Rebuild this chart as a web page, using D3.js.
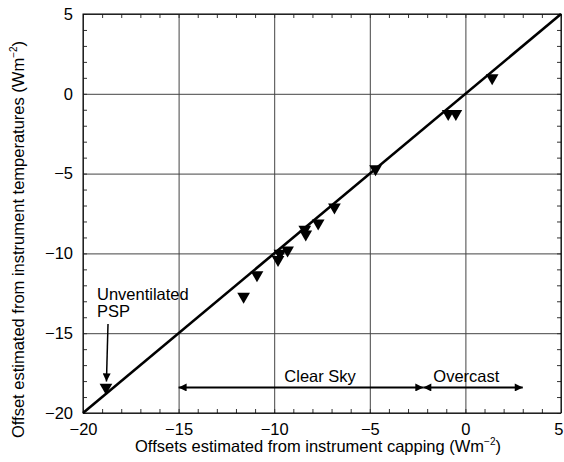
<!DOCTYPE html>
<html>
<head>
<meta charset="utf-8">
<script src="https://cdn.jsdelivr.net/npm/d3@7"></script>
<style>
  html, body { margin: 0; padding: 0; background: #fff; }
  svg { display: block; font-family: "Liberation Sans", Arial, Helvetica, sans-serif; }
</style>
</head>
<body>
<svg id="chart" width="564" height="462"></svg>
<script>
// Offsets from instrument capping (x) vs. from instrument temperatures (y), W m^-2
const capping = [1.4, -0.9, -0.5, -4.7, -6.85, -7.7, -8.4, -8.35, -9.3, -9.7, -9.8, -10.9, -11.6, -18.8];
const temps   = [1.0, -1.25, -1.25, -4.7, -7.1, -8.1, -8.5, -8.8, -9.8, -10.0, -10.4, -11.35, -12.7, -18.4];

const majorTicks = [-20, -15, -10, -5, 0, 5];
const tickLabels = ["\u221220", "\u221215", "\u221210", "\u22125", "0", "5"];
const minorTicks = d3.range(-20, 6, 1);

// one-to-one reference line
const oneToOne = [[-20, -20], [5, 5]];

// sky-condition ranges along the capping axis
const clearSky = [-15, -2.2];
const overcast = [-2.2, 3];
const rangeY = -18.4;

const FS = 16.5;
const svg = d3.select("#chart");
const mLeft = 83, mRight = 561, mTop = 14, mBottom = 413;
const x = d3.scaleLinear().domain([-20, 5]).range([mLeft, mRight]);
const y = d3.scaleLinear().domain([-20, 5]).range([mBottom, mTop]);
const W = mRight - mLeft, H = mBottom - mTop;

const fmt = d => tickLabels[majorTicks.indexOf(d)];

// gridlines
svg.append("g").attr("transform", `translate(0,${mBottom})`)
  .call(d3.axisBottom(x).tickValues(majorTicks).tickSize(-H).tickFormat(""))
  .call(g => g.select(".domain").remove())
  .call(g => g.selectAll("line").attr("stroke", "#444").attr("stroke-width", 1));
svg.append("g").attr("transform", `translate(${mLeft},0)`)
  .call(d3.axisLeft(y).tickValues(majorTicks).tickSize(-W).tickFormat(""))
  .call(g => g.select(".domain").remove())
  .call(g => g.selectAll("line").attr("stroke", "#444").attr("stroke-width", 1));

// minor inward ticks on all four sides
const minorStyle = g => {
  g.select(".domain").remove();
  g.selectAll("line").attr("stroke", "#333").attr("stroke-width", 1);
};
svg.append("g").attr("transform", `translate(0,${mBottom})`)
  .call(d3.axisBottom(x).tickValues(minorTicks).tickSize(-4).tickFormat("")).call(minorStyle);
svg.append("g").attr("transform", `translate(0,${mTop})`)
  .call(d3.axisTop(x).tickValues(minorTicks).tickSize(-4).tickFormat("")).call(minorStyle);
svg.append("g").attr("transform", `translate(${mLeft},0)`)
  .call(d3.axisLeft(y).tickValues(minorTicks).tickSize(-4).tickFormat("")).call(minorStyle);
svg.append("g").attr("transform", `translate(${mRight},0)`)
  .call(d3.axisRight(y).tickValues(minorTicks).tickSize(-4).tickFormat("")).call(minorStyle);

// frame
svg.append("rect").attr("x", mLeft).attr("y", mTop).attr("width", W).attr("height", H)
  .attr("fill", "none").attr("stroke", "#000").attr("stroke-width", 1);

// tick labels
svg.append("g").attr("transform", `translate(0,${mBottom})`)
  .call(d3.axisBottom(x).tickValues(majorTicks).tickSize(0).tickPadding(10).tickFormat(fmt))
  .call(g => g.select(".domain").remove())
  .call(g => g.selectAll("text").attr("font-size", FS).attr("fill", "#000").attr("font-family", null))
  // the last label sits flush with the right edge of the frame
  .call(g => g.selectAll("text").filter(d => d === 5).attr("text-anchor", "end").attr("dx", 2));
svg.append("g").attr("transform", `translate(${mLeft},0)`)
  .call(d3.axisLeft(y).tickValues(majorTicks).tickSize(0).tickPadding(10).tickFormat(fmt))
  .call(g => g.select(".domain").remove())
  .call(g => g.selectAll("text").attr("font-size", FS).attr("fill", "#000").attr("font-family", null));

// 1:1 line
svg.append("path").datum(oneToOne)
  .attr("d", d3.line().x(d => x(d[0])).y(d => y(d[1])))
  .attr("stroke", "#000").attr("stroke-width", 2.6).attr("fill", "none");

// data markers: downward triangles
const tri = d3.symbol().type(d3.symbolTriangle).size(70);
svg.append("g").selectAll("path").data(capping).join("path")
  .attr("d", tri)
  .attr("transform", (d, i) => `translate(${x(d)},${y(temps[i])}) rotate(180)`)
  .attr("fill", "#000");

// arrowheads
const defs = svg.append("defs");
defs.append("marker").attr("id", "head").attr("viewBox", "0 0 10 10")
  .attr("refX", 10).attr("refY", 5).attr("markerWidth", 10).attr("markerHeight", 8)
  .attr("markerUnits", "userSpaceOnUse").attr("orient", "auto-start-reverse")
  .append("path").attr("d", "M0,0L10,5L0,10Z").attr("fill", "#000");

const rangeArrow = r => svg.append("line")
  .attr("x1", x(r[0])).attr("x2", x(r[1])).attr("y1", y(rangeY)).attr("y2", y(rangeY))
  .attr("stroke", "#000").attr("stroke-width", 2)
  .attr("marker-start", "url(#head)").attr("marker-end", "url(#head)");
rangeArrow(clearSky);
rangeArrow(overcast);

svg.append("text").attr("x", x(-7.6)).attr("y", y(rangeY) - 5)
  .attr("text-anchor", "middle").attr("font-size", FS).text("Clear Sky");
svg.append("text").attr("x", x(0.05)).attr("y", y(rangeY) - 5)
  .attr("text-anchor", "middle").attr("font-size", FS).text("Overcast");

// annotation for the unventilated instrument
const psp = svg.append("text").attr("x", 97).attr("y", 300).attr("font-size", FS);
psp.append("tspan").attr("x", 97).text("Unventilated");
psp.append("tspan").attr("x", 97).attr("dy", 17).text("PSP");
svg.append("line")
  .attr("x1", 108).attr("y1", 324)
  .attr("x2", x(capping[13]) + 0.5).attr("y2", y(temps[13]) - 6)
  .attr("stroke", "#000").attr("stroke-width", 1.5)
  .attr("marker-end", "url(#head)");

// axis titles
const xt = svg.append("text").attr("x", (mLeft + mRight) / 2 - 4).attr("y", 452)
  .attr("text-anchor", "middle").attr("font-size", FS);
xt.append("tspan").text("Offsets estimated from instrument capping (Wm");
xt.append("tspan").attr("font-size", 10).attr("dy", -7).text("\u22122");
xt.append("tspan").attr("dy", 7).text(")");

const yt = svg.append("text")
  .attr("transform", `translate(24,${(mTop + mBottom) / 2 + 26}) rotate(-90)`)
  .attr("text-anchor", "middle").attr("font-size", FS);
yt.append("tspan").text("Offset estimated from instrument temperatures (Wm");
yt.append("tspan").attr("font-size", 10).attr("dy", -7).text("\u22122");
yt.append("tspan").attr("dy", 7).text(")");
</script>
</body>
</html>
